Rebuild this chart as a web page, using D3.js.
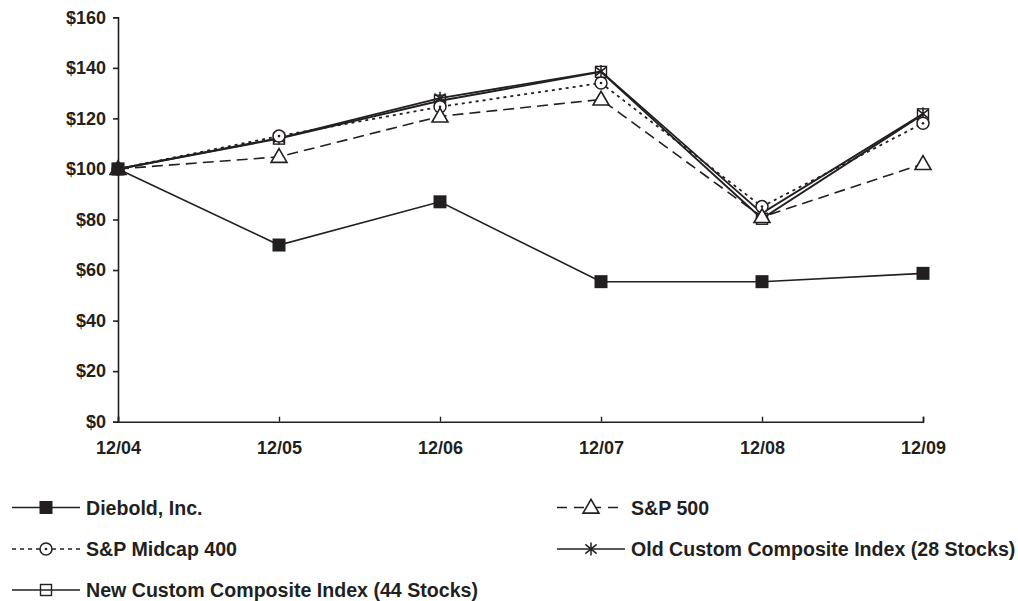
<!DOCTYPE html>
<html>
<head>
<meta charset="utf-8">
<script src="https://cdn.jsdelivr.net/npm/d3@7"></script>
<style>
  body { margin: 0; background: #fff; }
  svg { display: block; }
  text { font-family: "Liberation Sans", Arial, sans-serif; font-weight: bold; fill: #231f20; }
</style>
</head>
<body>
<div class="chart"></div>
<script>
const width = 1018;
const height = 601;
const ink = "#231f20";

const years = ["12/04", "12/05", "12/06", "12/07", "12/08", "12/09"];
const yTicks = [0, 20, 40, 60, 80, 100, 120, 140, 160];

const diebold = [100, 69.9, 87.0, 55.4, 55.4, 58.7];
const sp500 = [100, 104.8, 120.8, 127.5, 81.0, 102.0];
const midcap400 = [100, 113.0, 124.6, 134.0, 85.1, 118.1];
const oldCustom = [100, 112.2, 128.0, 138.6, 82.5, 121.8];
const newCustom = [100, 112.0, 127.0, 138.4, 80.3, 121.6];

const series = [
  { name: "Diebold, Inc.", values: diebold, marker: "filledSquare", dash: null, legendDash: null, lw: 1.6 },
  { name: "S&P 500", values: sp500, marker: "triangle", dash: "11,6", legendDash: "10,7", lw: 1.6 },
  { name: "S&P Midcap 400", values: midcap400, marker: "circle", dash: "3,4", legendDash: "4,4", lw: 1.8 },
  { name: "Old Custom Composite Index (28 Stocks)", values: oldCustom, marker: "asterisk", dash: null, legendDash: null, lw: 1.9 },
  { name: "New Custom Composite Index (44 Stocks)", values: newCustom, marker: "openSquare", dash: null, legendDash: null, lw: 1.9 }
];

const svg = d3.select(".chart").append("svg")
  .attr("width", width)
  .attr("height", height);

const x = d3.scalePoint().domain(years).range([118, 923]);
const y = d3.scaleLinear().domain([0, 160]).range([421.7, 17.3]);

// axes
const yAxis = d3.axisLeft(y).tickValues(yTicks).tickSize(5).tickPadding(7)
  .tickFormat(d => "$" + d);
const gy = svg.append("g").attr("transform", "translate(118,0)").call(yAxis);
gy.select(".domain").attr("stroke", ink).attr("stroke-width", 1.6);
gy.selectAll(".tick line").attr("stroke", ink).attr("stroke-width", 1.6);
gy.selectAll(".tick text").style("font-size", "18px").attr("fill", ink);

const xAxis = d3.axisBottom(x).tickSize(-5).tickPadding(0);
const gx = svg.append("g").attr("transform", "translate(0,421.7)").call(xAxis);
gx.select(".domain").attr("stroke", ink).attr("stroke-width", 1.6);
gx.selectAll(".tick line").attr("stroke", ink).attr("stroke-width", 1.4);
gx.selectAll(".tick text").style("font-size", "18px").attr("fill", ink)
  .attr("y", 20).attr("dy", "0.71em");

function drawMarker(g, type, cx, cy) {
  if (type === "filledSquare") {
    g.append("rect").attr("x", cx - 6.5).attr("y", cy - 6.5).attr("width", 13).attr("height", 13)
      .attr("fill", ink);
  } else if (type === "triangle") {
    const s = d3.symbol().type(d3.symbolTriangle).size(110);
    g.append("path").attr("d", s()).attr("transform", `translate(${cx},${cy + 1})`)
      .attr("fill", "#fff").attr("stroke", ink).attr("stroke-width", 1.6);
  } else if (type === "circle") {
    g.append("circle").attr("cx", cx).attr("cy", cy).attr("r", 6)
      .attr("fill", "#fff").attr("stroke", ink).attr("stroke-width", 1.5);
    g.append("circle").attr("cx", cx).attr("cy", cy).attr("r", 1.3).attr("fill", ink);
  } else if (type === "asterisk") {
    const r = 6.5;
    const p = d3.path();
    p.moveTo(cx, cy - r); p.lineTo(cx, cy + r);
    p.moveTo(cx - r * 0.87, cy - r * 0.7); p.lineTo(cx + r * 0.87, cy + r * 0.7);
    p.moveTo(cx - r * 0.87, cy + r * 0.7); p.lineTo(cx + r * 0.87, cy - r * 0.7);
    g.append("path").attr("d", p.toString()).attr("fill", "none")
      .attr("stroke", ink).attr("stroke-width", 1.5);
  } else if (type === "openSquare") {
    g.append("rect").attr("x", cx - 5.5).attr("y", cy - 5.5).attr("width", 11).attr("height", 11)
      .attr("fill", "none").attr("stroke", ink).attr("stroke-width", 1.4);
  }
}

const line = d3.line().x((d, i) => x(years[i])).y(d => y(d));

// lines, drawn so that the heavy series lie on top
series.slice().reverse().forEach(s => {
  const g = svg.append("g");
  g.append("path").datum(s.values).attr("d", line)
    .attr("fill", "none").attr("stroke", ink).attr("stroke-width", s.lw)
    .attr("stroke-dasharray", s.dash);
  s.values.forEach((v, i) => drawMarker(g, s.marker, x(years[i]), y(v)));
});

// legend
const legendPos = [
  [12, 507.5], [557, 507.5],
  [12, 549], [557, 549],
  [12, 590]
];
series.forEach((s, i) => {
  const [lx, ly] = legendPos[i];
  const g = svg.append("g");
  g.append("line").attr("x1", lx).attr("x2", lx + 68).attr("y1", ly).attr("y2", ly)
    .attr("stroke", ink).attr("stroke-width", 1.6).attr("stroke-dasharray", s.legendDash);
  drawMarker(g, s.marker, lx + 34, ly);
  g.append("text").attr("x", lx + 74).attr("y", ly).attr("dy", "0.36em")
    .style("font-size", "19.6px").text(s.name);
});
</script>
</body>
</html>
